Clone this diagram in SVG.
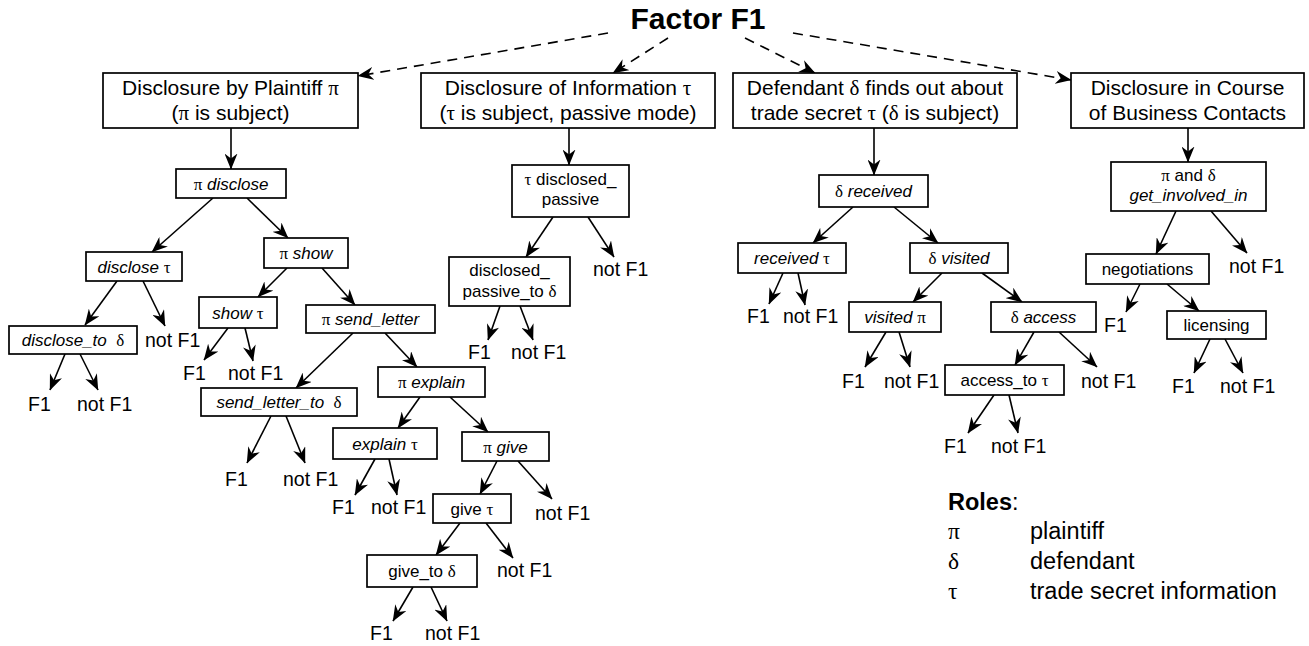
<svg xmlns="http://www.w3.org/2000/svg" width="1309" height="646" viewBox="0 0 1309 646">
<style>
text{font-family:"Liberation Sans",Arial,sans-serif;fill:#000}
.title{font-size:30px;font-weight:bold}
.hd{font-size:21px}
.nd{font-size:17px}
.lf{font-size:19.5px}
.lg{font-size:23.5px}
.i{font-style:italic}
.g{font-family:"Liberation Serif","Times New Roman",serif;font-style:normal}
rect{fill:#fff;stroke:#000;stroke-width:1.7}
.c line{stroke:#000;stroke-width:1.6;marker-end:url(#ah)}
.c .d{stroke-dasharray:10,7}
</style>
<defs>
<marker id="ah" viewBox="0 0 16 13" refX="15.5" refY="6.5" markerWidth="16" markerHeight="13" markerUnits="userSpaceOnUse" orient="auto">
<path d="M0,0 L16,6.5 L0,13 L5,6.5 z" fill="#000"/>
</marker>
</defs>
<rect x="0" y="0" width="1309" height="646" style="fill:#fff;stroke:none"/>
<g id="title"><text class="title" x="698" y="29" text-anchor="middle">Factor F1</text></g>

<g class="c" id="connectors">
<line class="d" x1="608" y1="33" x2="358" y2="76"/>
<line class="d" x1="668" y1="38" x2="613" y2="73"/>
<line class="d" x1="745" y1="38" x2="815" y2="73"/>
<line class="d" x1="793" y1="33" x2="1071" y2="80"/>
<line x1="231" y1="128" x2="231" y2="169"/>
<line x1="213" y1="198" x2="152" y2="252"/>
<line x1="247" y1="198" x2="288" y2="238"/>
<line x1="117" y1="281" x2="85" y2="325"/>
<line x1="143" y1="281" x2="165" y2="326"/>
<line x1="65" y1="354" x2="50" y2="390"/>
<line x1="80" y1="354" x2="98" y2="390"/>
<line x1="287" y1="268" x2="258" y2="297"/>
<line x1="322" y1="268" x2="355" y2="305"/>
<line x1="228" y1="328" x2="204" y2="360"/>
<line x1="245" y1="328" x2="253" y2="361"/>
<line x1="353" y1="333" x2="296" y2="388"/>
<line x1="385" y1="333" x2="417" y2="367"/>
<line x1="271" y1="416" x2="247" y2="463"/>
<line x1="286" y1="416" x2="305" y2="463"/>
<line x1="420" y1="397" x2="398" y2="428"/>
<line x1="450" y1="397" x2="488" y2="432"/>
<line x1="375" y1="459" x2="355" y2="495"/>
<line x1="389" y1="459" x2="397" y2="495"/>
<line x1="497" y1="461" x2="480" y2="494"/>
<line x1="518" y1="461" x2="552" y2="499"/>
<line x1="460" y1="523" x2="436" y2="555"/>
<line x1="486" y1="523" x2="513" y2="558"/>
<line x1="413" y1="587" x2="393" y2="621"/>
<line x1="431" y1="587" x2="447" y2="621"/>
<line x1="569" y1="128" x2="569" y2="165"/>
<line x1="553" y1="217" x2="526" y2="257"/>
<line x1="588" y1="217" x2="614" y2="257"/>
<line x1="500" y1="306" x2="488" y2="340"/>
<line x1="520" y1="306" x2="533" y2="340"/>
<line x1="874" y1="128" x2="874" y2="175"/>
<line x1="853" y1="207" x2="813" y2="243"/>
<line x1="894" y1="207" x2="938" y2="243"/>
<line x1="783" y1="273" x2="769" y2="304"/>
<line x1="798" y1="273" x2="805" y2="305"/>
<line x1="942" y1="273" x2="913" y2="302"/>
<line x1="982" y1="273" x2="1022" y2="302"/>
<line x1="886" y1="332" x2="865" y2="367"/>
<line x1="899" y1="332" x2="910" y2="367"/>
<line x1="1034" y1="332" x2="1015" y2="365"/>
<line x1="1059" y1="332" x2="1097" y2="367"/>
<line x1="994" y1="395" x2="968" y2="433"/>
<line x1="1009" y1="395" x2="1018" y2="433"/>
<line x1="1188" y1="128" x2="1188" y2="162"/>
<line x1="1176" y1="211" x2="1156" y2="254"/>
<line x1="1211" y1="211" x2="1247" y2="253"/>
<line x1="1140" y1="284" x2="1126" y2="312"/>
<line x1="1167" y1="284" x2="1199" y2="311"/>
<line x1="1210" y1="339" x2="1194" y2="373"/>
<line x1="1225" y1="339" x2="1243" y2="373"/>
</g>

<g id="h1"><rect x="103" y="73" width="255" height="55"/>
<text class="hd" x="230.5" y="95" text-anchor="middle">Disclosure by Plaintiff <tspan class="g">π</tspan></text>
<text class="hd" x="230.5" y="120" text-anchor="middle">(<tspan class="g">π</tspan> is subject)</text></g>
<g id="h2"><rect x="421" y="73" width="294" height="55"/>
<text class="hd" x="568" y="95" text-anchor="middle">Disclosure of Information <tspan class="g">τ</tspan></text>
<text class="hd" x="568" y="120" text-anchor="middle">(<tspan class="g">τ</tspan> is subject, passive mode)</text></g>
<g id="h3"><rect x="733" y="73" width="284" height="55"/>
<text class="hd" x="875" y="95" text-anchor="middle">Defendant <tspan class="g">δ</tspan> finds out about</text>
<text class="hd" x="875" y="120" text-anchor="middle">trade secret <tspan class="g">τ</tspan> (<tspan class="g">δ</tspan> is subject)</text></g>
<g id="h4"><rect x="1071" y="73" width="233" height="55"/>
<text class="hd" x="1187.5" y="95" text-anchor="middle">Disclosure in Course</text>
<text class="hd" x="1187.5" y="120" text-anchor="middle">of Business Contacts</text></g>

<g id="n-pi-disclose"><rect x="176" y="169" width="110" height="29"/><text class="nd" x="231" y="189.5" text-anchor="middle"><tspan class="g">π</tspan> <tspan class="i">disclose</tspan></text></g>
<g id="n-disclose-tau"><rect x="86" y="252" width="96" height="29"/><text class="nd" x="134" y="272.5" text-anchor="middle"><tspan class="i">disclose</tspan> <tspan class="g">τ</tspan></text></g>
<g id="n-pi-show"><rect x="264" y="238" width="84" height="30"/><text class="nd" x="306" y="259" text-anchor="middle"><tspan class="g">π</tspan> <tspan class="i">show</tspan></text></g>
<g id="n-disclose-to"><rect x="9" y="326" width="128" height="28"/><text class="nd" x="73" y="346" text-anchor="middle" xml:space="preserve"><tspan class="i">disclose_to</tspan>  <tspan class="g">δ</tspan></text></g>
<g id="n-show-tau"><rect x="199" y="297" width="78" height="31"/><text class="nd" x="238" y="318.5" text-anchor="middle"><tspan class="i">show</tspan> <tspan class="g">τ</tspan></text></g>
<g id="n-send-letter"><rect x="306" y="305" width="129" height="28"/><text class="nd" x="370.5" y="325" text-anchor="middle"><tspan class="g">π</tspan> <tspan class="i">send_letter</tspan></text></g>
<g id="n-send-letter-to"><rect x="201" y="388" width="156" height="28"/><text class="nd" x="279" y="408" text-anchor="middle" xml:space="preserve"><tspan class="i">send_letter_to</tspan>  <tspan class="g">δ</tspan></text></g>
<g id="n-explain"><rect x="378" y="367" width="107" height="30"/><text class="nd" x="431.5" y="388" text-anchor="middle"><tspan class="g">π</tspan> <tspan class="i">explain</tspan></text></g>
<g id="n-explain-tau"><rect x="333" y="428" width="104" height="31"/><text class="nd" x="385" y="449.5" text-anchor="middle"><tspan class="i">explain</tspan> <tspan class="g">τ</tspan></text></g>
<g id="n-give"><rect x="462" y="432" width="87" height="29"/><text class="nd" x="505.5" y="452.5" text-anchor="middle"><tspan class="g">π</tspan> <tspan class="i">give</tspan></text></g>
<g id="n-give-tau"><rect x="433" y="494" width="78" height="29"/><text class="nd" x="472" y="514.5" text-anchor="middle">give <tspan class="g">τ</tspan></text></g>
<g id="n-give-to"><rect x="367" y="555" width="110" height="32"/><text class="nd" x="422" y="577" text-anchor="middle">give_to <tspan class="g">δ</tspan></text></g>

<g id="n-disclosed-passive"><rect x="512" y="165" width="117" height="52"/><text class="nd" x="570.5" y="185" text-anchor="middle"><tspan class="g">τ</tspan> disclosed_</text><text class="nd" x="570.5" y="205" text-anchor="middle">passive</text></g>
<g id="n-disclosed-passive-to"><rect x="449" y="257" width="121" height="49"/><text class="nd" x="509.5" y="276" text-anchor="middle">disclosed_</text><text class="nd" x="509.5" y="297" text-anchor="middle">passive_to <tspan class="g">δ</tspan></text></g>

<g id="n-received"><rect x="819" y="175" width="109" height="32"/><text class="nd" x="873.5" y="197" text-anchor="middle"><tspan class="g">δ</tspan> <tspan class="i">received</tspan></text></g>
<g id="n-received-tau"><rect x="738" y="243" width="108" height="30"/><text class="nd" x="792" y="264" text-anchor="middle"><tspan class="i">received</tspan> <tspan class="g">τ</tspan></text></g>
<g id="n-visited"><rect x="910" y="243" width="98" height="30"/><text class="nd" x="959" y="264" text-anchor="middle"><tspan class="g">δ</tspan> <tspan class="i">visited</tspan></text></g>
<g id="n-visited-pi"><rect x="849" y="302" width="92" height="30"/><text class="nd" x="895" y="323" text-anchor="middle"><tspan class="i">visited</tspan> <tspan class="g">π</tspan></text></g>
<g id="n-access"><rect x="991" y="302" width="105" height="30"/><text class="nd" x="1043.5" y="323" text-anchor="middle"><tspan class="g">δ</tspan> <tspan class="i">access</tspan></text></g>
<g id="n-access-to"><rect x="945" y="365" width="119" height="30"/><text class="nd" x="1004.5" y="386" text-anchor="middle">access_to <tspan class="g">τ</tspan></text></g>

<g id="n-involved"><rect x="1111" y="162" width="155" height="49"/><text class="nd" x="1188.5" y="181" text-anchor="middle"><tspan class="g">π</tspan> and <tspan class="g">δ</tspan></text><text class="nd i" x="1188.5" y="201" text-anchor="middle">get_involved_in</text></g>
<g id="n-negotiations"><rect x="1086" y="254" width="123" height="30"/><text class="nd" x="1147.5" y="275" text-anchor="middle">negotiations</text></g>
<g id="n-licensing"><rect x="1167" y="311" width="99" height="28"/><text class="nd" x="1216.5" y="331" text-anchor="middle">licensing</text></g>

<g id="leaves">
<text class="lf" x="28" y="411">F1</text><text class="lf" x="77" y="411">not F1</text>
<text class="lf" x="145" y="347">not F1</text>
<text class="lf" x="183" y="380">F1</text><text class="lf" x="228" y="380">not F1</text>
<text class="lf" x="225" y="486">F1</text><text class="lf" x="283" y="486">not F1</text>
<text class="lf" x="332" y="514">F1</text><text class="lf" x="371" y="514">not F1</text>
<text class="lf" x="535" y="520">not F1</text>
<text class="lf" x="497" y="577">not F1</text>
<text class="lf" x="370" y="640">F1</text><text class="lf" x="425" y="640">not F1</text>
<text class="lf" x="593" y="276">not F1</text>
<text class="lf" x="468" y="359">F1</text><text class="lf" x="511" y="359">not F1</text>
<text class="lf" x="747" y="323">F1</text><text class="lf" x="783" y="323">not F1</text>
<text class="lf" x="842" y="388">F1</text><text class="lf" x="884" y="388">not F1</text>
<text class="lf" x="1081" y="388">not F1</text>
<text class="lf" x="944" y="453">F1</text><text class="lf" x="991" y="453">not F1</text>
<text class="lf" x="1229" y="273">not F1</text>
<text class="lf" x="1104" y="332">F1</text>
<text class="lf" x="1172" y="393">F1</text><text class="lf" x="1220" y="393">not F1</text>
</g>

<g id="legend">
<text class="lg" x="948" y="510"><tspan font-weight="bold">Roles</tspan>:</text>
<text class="lg" x="948" y="539"><tspan class="g">π</tspan></text><text class="lg" x="1030" y="539">plaintiff</text>
<text class="lg" x="948" y="569"><tspan class="g">δ</tspan></text><text class="lg" x="1030" y="569">defendant</text>
<text class="lg" x="948" y="599"><tspan class="g">τ</tspan></text><text class="lg" x="1030" y="599">trade secret information</text>
</g>
</svg>
